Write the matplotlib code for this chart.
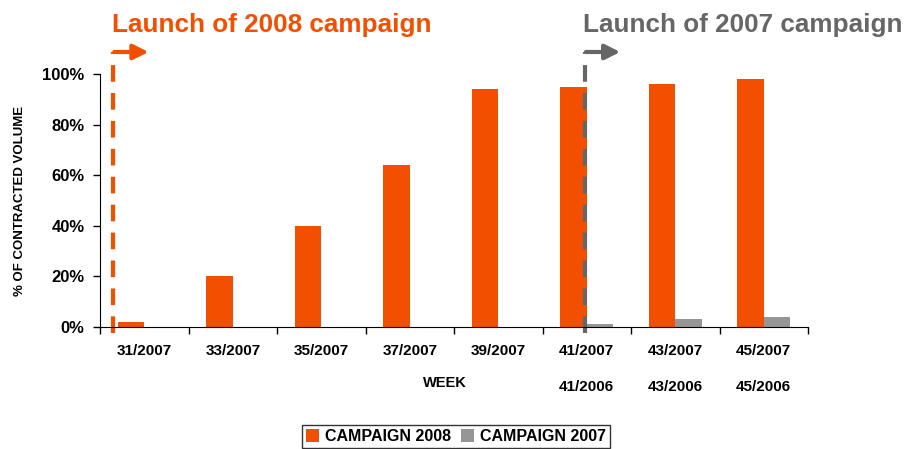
import matplotlib.pyplot as plt
import numpy as np

plt.rcParams['font.family'] = ['Liberation Sans', 'DejaVu Sans']

# data
weeks_2007 = ['31/2007', '33/2007', '35/2007', '37/2007', '39/2007', '41/2007', '43/2007', '45/2007']
weeks_2006 = ['', '', '', '', '', '41/2006', '43/2006', '45/2006']
campaign_2008 = [2, 20, 40, 64, 94, 95, 96, 98]
campaign_2007 = [0, 0, 0, 0, 0, 1, 3, 4]

orange = '#F25000'
grey = '#969696'
dark_grey = '#666666'

fig = plt.figure(figsize=(9.09, 4.49), dpi=100)
ax = fig.add_axes([100/909, 1-327/449, 708/909, 253/449])

x = np.arange(len(weeks_2007))
w = 0.3
ax.bar(x - w/2, campaign_2008, w, color=orange, label='CAMPAIGN 2008')
ax.bar(x + w/2, campaign_2007, w, color=grey, label='CAMPAIGN 2007')

ax.set_xlim(-0.5, len(x) - 0.5)
ax.set_ylim(0, 100)
ax.set_yticks([0, 20, 40, 60, 80, 100])
ax.set_yticklabels(['0%', '20%', '40%', '60%', '80%', '100%'], fontsize=12, fontweight='bold')
ax.tick_params(axis='y', length=5, width=1, pad=6)

# category boundaries as ticks, labels in the middle
ax.set_xticks(np.arange(-0.5, len(x)), minor=False)
ax.set_xticklabels([])
ax.tick_params(axis='x', length=5, width=1)
ax.set_xticks(x, minor=True)
labels = []
for a, b in zip(weeks_2007, weeks_2006):
    labels.append(a + '\n' + b if b else a)
ax.set_xticklabels(labels, minor=True, fontsize=11, fontweight='bold', linespacing=3.0, va='top')
ax.tick_params(axis='x', which='minor', length=0, pad=12)

for s in ['top', 'right']:
    ax.spines[s].set_visible(False)

ax.set_ylabel('% OF CONTRACTED VOLUME', fontsize=9.5, fontweight='bold', labelpad=12)
ax.text(3.4, -22, 'WEEK', fontsize=10.5, fontweight='bold', ha='center', va='center')

# launch markers
for xpos, col, txt in [(-0.35, orange, 'Launch of 2008 campaign'), (4.98, dark_grey, 'Launch of 2007 campaign')]:
    ax.plot([xpos, xpos], [-2.5, 108.7], color=col, lw=3, ls=(0, (4, 2.7)), clip_on=False)
    ax.annotate('', xy=(xpos + 0.43, 108.7), xytext=(xpos - 0.02, 108.7),
                arrowprops=dict(arrowstyle='-|>,head_length=0.9,head_width=0.45', color=col, lw=3),
                annotation_clip=False)
    ax.text(xpos - 0.02, 119.5, txt, color=col, fontsize=18.8, fontweight='bold', ha='left', va='center', clip_on=False)

leg = fig.legend(loc='upper center', bbox_to_anchor=(456/909, 1-425/449), ncol=2, frameon=True,
                 fancybox=False, edgecolor='black', handlelength=0.8, handleheight=0.8,
                 handletextpad=0.4, columnspacing=0.6, borderpad=0.25, borderaxespad=0,
                 prop={'weight': 'bold', 'size': 11.5})
leg.get_frame().set_linewidth(1)

fig.savefig('out.png', dpi=100)
